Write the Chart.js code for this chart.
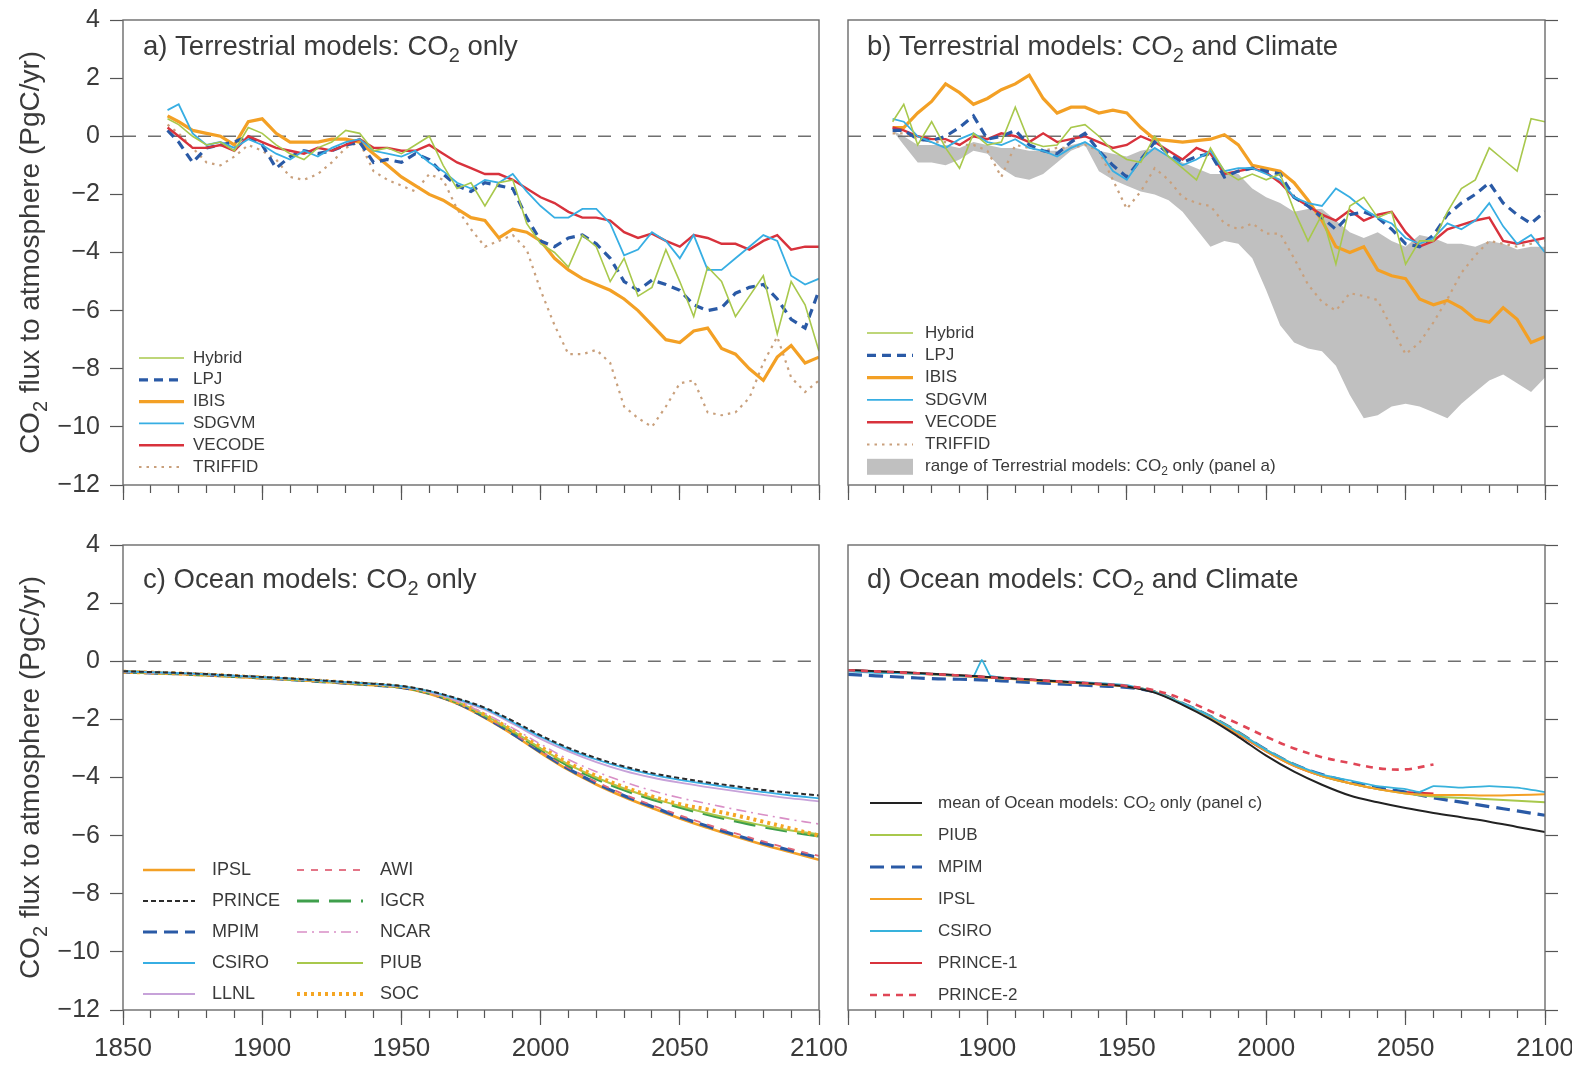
<!DOCTYPE html>
<html>
<head>
<meta charset="utf-8">
<title>CO2 flux to atmosphere</title>
<script src="https://cdn.jsdelivr.net/npm/chart.js@4.4.1/dist/chart.umd.min.js"></script>
<style>
  body { margin: 0; background: #ffffff; }
  #sheet { position: relative; width: 1572px; height: 1067px; overflow: hidden; }
  #sheet canvas { position: absolute; }
</style>
</head>
<body>
<div id="sheet">
  <canvas id="panelA" width="870" height="505" style="left:0px;top:0px"></canvas>
  <canvas id="panelB" width="738" height="505" style="left:834px;top:0px"></canvas>
  <canvas id="panelC" width="870" height="547" style="left:0px;top:520px"></canvas>
  <canvas id="panelD" width="738" height="547" style="left:834px;top:520px"></canvas>
</div>

<script>
// ---------- terrestrial runs (PgC/yr), one value per year in landYears ----------
const landYears = [1866, 1870, 1875, 1880, 1885, 1890, 1895, 1900, 1905, 1910, 1915, 1920, 1925, 1930, 1935, 1940,
  1945, 1950, 1955, 1960, 1965, 1970, 1975, 1980, 1985, 1990, 1995, 2000, 2005, 2010, 2015, 2020,
  2025, 2030, 2035, 2040, 2045, 2050, 2055, 2060, 2065, 2070, 2075, 2080, 2085, 2090, 2095, 2100];

// a) CO2 only
const hybridA  = [0.6, 0.4, 0.0, -0.3, -0.2, -0.5, 0.3, 0.1, -0.3, -0.6, -0.8, -0.4, -0.2, 0.2, 0.1, -0.5,
  -0.4, -0.6, -0.3, 0.0, -1.0, -1.8, -1.6, -2.4, -1.6, -1.5, -3.0, -3.7, -4.0, -4.5, -3.4, -3.8,
  -5.0, -4.2, -5.5, -5.2, -3.9, -5.0, -6.2, -4.5, -5.0, -6.2, -5.5, -4.8, -6.8, -5.0, -5.8, -7.4];
const lpjA     = [0.2, -0.2, -0.9, -0.4, -0.3, -0.2, 0.0, -0.3, -1.1, -0.7, -0.5, -0.6, -0.5, -0.3, -0.2, -0.9,
  -0.8, -0.9, -0.6, -0.8, -1.3, -1.7, -1.9, -1.6, -1.7, -1.8, -2.8, -3.6, -3.8, -3.5, -3.4, -3.7,
  -4.2, -5.0, -5.3, -4.95, -5.1, -5.3, -5.8, -6.0, -5.9, -5.4, -5.2, -5.1, -5.6, -6.3, -6.6, -5.3];
const ibisA    = [0.7, 0.5, 0.2, 0.1, 0.0, -0.3, 0.5, 0.6, 0.1, -0.2, -0.2, -0.2, -0.1, -0.1, -0.2, -0.6,
  -1.0, -1.4, -1.7, -2.0, -2.2, -2.5, -2.8, -2.9, -3.5, -3.2, -3.3, -3.6, -4.2, -4.6, -4.9, -5.1,
  -5.3, -5.6, -6.0, -6.5, -7.0, -7.1, -6.7, -6.6, -7.3, -7.5, -8.0, -8.4, -7.6, -7.2, -7.8, -7.6];
const sdgvmA   = [0.9, 1.1, 0.1, -0.3, -0.2, -0.4, -0.1, -0.3, -0.6, -0.8, -0.5, -0.7, -0.4, -0.2, -0.1, -0.5,
  -0.6, -0.7, -0.5, -0.9, -1.2, -1.6, -1.8, -1.5, -1.6, -1.3, -1.9, -2.4, -2.8, -2.8, -2.5, -2.5,
  -3.0, -4.1, -3.9, -3.3, -3.6, -4.2, -3.4, -4.6, -4.6, -4.2, -3.8, -3.4, -3.6, -4.8, -5.1, -4.9];
const vecodeA  = [0.3, 0.0, -0.4, -0.4, -0.3, -0.5, 0.0, -0.2, -0.4, -0.5, -0.6, -0.4, -0.5, -0.3, -0.1, -0.4,
  -0.4, -0.5, -0.5, -0.3, -0.6, -0.9, -1.1, -1.3, -1.3, -1.5, -1.8, -2.1, -2.3, -2.6, -2.8, -2.8,
  -2.9, -3.3, -3.5, -3.35, -3.6, -3.8, -3.4, -3.5, -3.7, -3.7, -3.9, -3.6, -3.4, -3.9, -3.8, -3.8];
const triffidA = [0.4, 0.1, -0.4, -0.9, -1.0, -0.7, -0.3, -0.5, -0.8, -1.4, -1.5, -1.3, -0.9, -0.4, -0.2, -1.2,
  -1.5, -1.7, -1.9, -1.3, -1.5, -2.5, -3.2, -3.8, -3.6, -3.4, -3.9, -5.3, -6.5, -7.5, -7.5, -7.35,
  -7.8, -9.3, -9.7, -10.0, -9.3, -8.5, -8.4, -9.5, -9.6, -9.5, -9.0, -7.8, -6.9, -8.3, -8.8, -8.4];

// b) CO2 and climate
const hybridB  = [0.5, 1.1, -0.3, 0.5, -0.4, -1.1, 0.1, -0.3, -0.2, 1.0, -0.2, -0.35, -0.3, 0.3, 0.4, 0.0,
  -0.5, -0.8, -0.9, 0.0, -0.7, -1.1, -1.5, -0.4, -1.2, -1.5, -1.3, -1.5, -1.3, -2.55, -3.6, -2.7,
  -4.4, -2.4, -2.1, -2.8, -2.6, -4.4, -3.6, -3.6, -2.6, -1.8, -1.5, -0.4, -0.8, -1.2, 0.6, 0.5];
const lpjB     = [0.2, 0.2, -0.1, -0.15, 0.0, 0.3, 0.7, -0.1, 0.0, 0.2, -0.3, -0.5, -0.6, -0.2, 0.1, -0.5,
  -1.0, -1.4, -0.8, -0.2, -0.6, -0.9, -0.7, -0.6, -1.4, -1.2, -1.1, -1.2, -1.3, -2.1, -2.4, -2.8,
  -3.2, -2.7, -2.6, -2.8, -3.2, -3.7, -3.8, -3.4, -2.7, -2.3, -2.0, -1.6, -2.3, -2.7, -3.0, -2.6];
const ibisB    = [0.3, 0.3, 0.8, 1.2, 1.8, 1.5, 1.1, 1.3, 1.6, 1.8, 2.1, 1.3, 0.8, 1.0, 1.0, 0.8,
  0.9, 0.8, 0.3, -0.1, -0.15, -0.2, -0.15, -0.1, 0.05, -0.3, -1.0, -1.1, -1.2, -1.6, -2.2, -2.9,
  -3.8, -4.0, -3.8, -4.6, -4.8, -4.9, -5.6, -5.8, -5.65, -5.9, -6.3, -6.4, -5.9, -6.3, -7.1, -6.9];
const sdgvmB   = [0.6, 0.5, 0.0, -0.2, -0.4, -0.1, 0.1, -0.2, -0.3, -0.1, -0.4, -0.5, -0.7, -0.4, -0.2, -0.5,
  -1.2, -1.5, -0.8, -0.4, -0.7, -1.0, -0.8, -0.5, -1.2, -1.1, -1.1, -1.3, -1.5, -2.1, -2.3, -2.4,
  -1.8, -2.1, -2.5, -2.8, -3.0, -3.5, -3.7, -3.5, -3.0, -3.2, -2.9, -2.3, -3.1, -3.7, -3.4, -4.0];
const vecodeB  = [0.3, 0.2, 0.0, -0.1, -0.1, -0.3, 0.0, -0.1, 0.1, 0.0, -0.2, 0.1, -0.2, -0.1, 0.0, -0.2,
  -0.4, -0.3, 0.0, -0.2, -0.5, -0.8, -0.4, -0.6, -1.3, -1.2, -1.1, -1.25, -1.6, -2.1, -2.4, -2.7,
  -2.9, -2.55, -2.9, -2.7, -2.6, -3.3, -3.8, -3.6, -3.2, -3.05, -2.9, -2.8, -3.6, -3.7, -3.6, -3.5];
const triffidB = [0.1, 0.1, -0.1, -0.2, -0.2, -0.3, -0.3, -0.5, -1.4, -0.3, -0.4, -0.5, -0.4, -0.4, -0.3, -0.5,
  -1.5, -2.5, -1.9, -1.1, -1.5, -2.1, -2.3, -2.4, -3.0, -3.2, -3.0, -3.35, -3.35, -4.2, -5.1, -5.7,
  -6.0, -5.4, -5.5, -5.64, -6.6, -7.5, -7.1, -6.4, -5.6, -4.7, -4.1, -3.6, -3.7, -3.8, -3.7, -3.6];

// spread of the CO2-only runs, shown as a band in panel b
const rangeHigh = [0.2, 0.0, -0.3, -0.3, -0.3, -0.4, -0.2, -0.3, -0.4, -0.4, -0.5, -0.5, -0.5, -0.3, -0.2, -0.5,
  -0.6, -0.7, -0.5, -0.4, -0.7, -0.9, -1.1, -1.3, -1.3, -1.3, -1.8, -2.1, -2.3, -2.6, -2.5, -2.5,
  -2.9, -3.3, -3.5, -3.3, -3.6, -3.8, -3.4, -3.5, -3.7, -3.7, -3.8, -3.6, -3.7, -3.9, -3.8, -3.8];
const rangeLow  = [0.2, -0.3, -0.9, -0.9, -1.0, -0.8, -0.5, -0.6, -1.1, -1.4, -1.5, -1.3, -0.9, -0.5, -0.3, -1.2,
  -1.5, -1.7, -1.9, -2.0, -2.2, -2.6, -3.2, -3.8, -3.6, -3.7, -4.2, -5.3, -6.5, -7.1, -7.3, -7.4,
  -7.9, -8.9, -9.7, -9.6, -9.3, -9.2, -9.3, -9.5, -9.7, -9.2, -8.8, -8.4, -8.2, -8.5, -8.8, -8.3];

// ---------- ocean runs (PgC/yr), one value per decade ----------
const seaYears = [1850, 1860, 1870, 1880, 1890, 1900, 1910, 1920, 1930, 1940, 1950, 1960, 1970,
  1980, 1990, 2000, 2010, 2020, 2030, 2040, 2050, 2060, 2070, 2080, 2090, 2100];

// c) CO2 only
const princeC = [-0.34, -0.37, -0.40, -0.44, -0.49, -0.54, -0.59, -0.65, -0.71, -0.77, -0.85, -1.02, -1.28,
  -1.60, -2.05, -2.55, -2.98, -3.33, -3.62, -3.85, -4.02, -4.17, -4.30, -4.43, -4.53, -4.62];
const csiroC  = [-0.35, -0.38, -0.41, -0.45, -0.50, -0.55, -0.60, -0.66, -0.72, -0.78, -0.86, -1.03, -1.30,
  -1.63, -2.10, -2.60, -3.03, -3.38, -3.67, -3.90, -4.08, -4.23, -4.37, -4.50, -4.62, -4.72];
const llnlC   = [-0.35, -0.38, -0.41, -0.45, -0.50, -0.55, -0.60, -0.66, -0.72, -0.79, -0.87, -1.05, -1.33,
  -1.67, -2.15, -2.67, -3.10, -3.47, -3.77, -4.00, -4.18, -4.33, -4.47, -4.60, -4.72, -4.82];
const ncarC   = [-0.36, -0.39, -0.42, -0.46, -0.51, -0.56, -0.61, -0.67, -0.73, -0.79, -0.88, -1.07, -1.38,
  -1.80, -2.30, -2.85, -3.38, -3.80, -4.15, -4.45, -4.70, -4.90, -5.10, -5.28, -5.45, -5.60];
const socC    = [-0.36, -0.39, -0.42, -0.46, -0.51, -0.56, -0.61, -0.67, -0.73, -0.80, -0.88, -1.08, -1.40,
  -1.85, -2.38, -2.95, -3.50, -3.95, -4.33, -4.65, -4.92, -5.10, -5.30, -5.52, -5.76, -6.00];
const piubC   = [-0.36, -0.39, -0.42, -0.46, -0.51, -0.56, -0.62, -0.68, -0.74, -0.80, -0.88, -1.08, -1.40,
  -1.86, -2.40, -3.00, -3.55, -4.00, -4.38, -4.70, -4.98, -5.23, -5.45, -5.65, -5.82, -5.95];
const igcrC   = [-0.36, -0.39, -0.43, -0.47, -0.52, -0.57, -0.62, -0.68, -0.74, -0.81, -0.89, -1.09, -1.42,
  -1.88, -2.43, -3.03, -3.60, -4.05, -4.43, -4.75, -5.03, -5.28, -5.50, -5.70, -5.87, -6.02];
const awiC    = [-0.37, -0.40, -0.43, -0.47, -0.52, -0.57, -0.62, -0.68, -0.75, -0.81, -0.89, -1.10, -1.43,
  -1.90, -2.47, -3.08, -3.66, -4.15, -4.58, -4.95, -5.30, -5.62, -5.92, -6.20, -6.46, -6.70];
const mpimC   = [-0.37, -0.40, -0.43, -0.47, -0.52, -0.57, -0.63, -0.69, -0.75, -0.82, -0.90, -1.10, -1.44,
  -1.92, -2.50, -3.12, -3.70, -4.20, -4.63, -5.00, -5.36, -5.68, -5.98, -6.26, -6.52, -6.76];
const ipslC   = [-0.37, -0.40, -0.44, -0.48, -0.53, -0.58, -0.63, -0.69, -0.76, -0.82, -0.90, -1.12, -1.46,
  -1.95, -2.52, -3.15, -3.74, -4.24, -4.67, -5.05, -5.41, -5.73, -6.03, -6.31, -6.57, -6.83];

// d) CO2 and climate
const meanD    = [-0.30, -0.34, -0.38, -0.43, -0.48, -0.54, -0.60, -0.66, -0.72, -0.78, -0.87, -1.08, -1.50,
  -2.00, -2.60, -3.25, -3.80, -4.25, -4.62, -4.85, -5.05, -5.22, -5.37, -5.52, -5.70, -5.88];
const piubD    = [-0.32, -0.36, -0.40, -0.45, -0.50, -0.55, -0.61, -0.67, -0.73, -0.79, -0.86, -1.05, -1.45,
  -1.90, -2.45, -3.05, -3.55, -3.95, -4.20, -4.40, -4.55, -4.65, -4.70, -4.75, -4.80, -4.85];
const mpimD    = [-0.45, -0.50, -0.55, -0.60, -0.62, -0.65, -0.70, -0.75, -0.80, -0.85, -0.90, -1.05, -1.45,
  -1.90, -2.45, -3.05, -3.55, -3.90, -4.15, -4.35, -4.50, -4.70, -4.85, -5.00, -5.15, -5.30];
const ipslD    = [-0.33, -0.37, -0.41, -0.46, -0.51, -0.56, -0.62, -0.68, -0.74, -0.80, -0.87, -1.06, -1.47,
  -1.95, -2.50, -3.10, -3.60, -3.95, -4.20, -4.40, -4.55, -4.60, -4.60, -4.62, -4.60, -4.58];
const prince1D = [-0.31, -0.35, -0.39, -0.44, -0.49, -0.55, -0.61, -0.67, -0.73, -0.79, -0.86, -1.06, -1.47,
  -1.95, -2.52, -3.10, -3.60, -3.95, -4.20, -4.40, -4.50, -4.55, null, null, null, null];
const prince2D = [-0.31, -0.35, -0.39, -0.44, -0.49, -0.55, -0.60, -0.66, -0.72, -0.78, -0.85, -1.00, -1.30,
  -1.72, -2.15, -2.60, -3.00, -3.30, -3.50, -3.68, -3.72, -3.55, null, null, null, null];
// CSIRO has a short blip just before 1900, so it keeps its own years
const csiroYearsD = [1850, 1860, 1870, 1880, 1890, 1895, 1898, 1901, 1905, 1910, 1920, 1930, 1940, 1950, 1960, 1970,
  1980, 1990, 2000, 2010, 2020, 2030, 2040, 2050, 2055, 2060, 2070, 2080, 2090, 2100];
const csiroD   = [-0.35, -0.40, -0.42, -0.45, -0.50, -0.52, 0.05, -0.50, -0.56, -0.60, -0.65, -0.70, -0.75, -0.82,
  -1.05, -1.45, -1.90, -2.45, -3.05, -3.55, -3.90, -4.10, -4.30, -4.40, -4.50, -4.30, -4.35, -4.30, -4.35, -4.50];

const yTicks = [4, 2, 0, -2, -4, -6, -8, -10, -12];

// ---------- look ----------
const FONT = '"Liberation Sans", Arial, Helvetica, sans-serif';
const INK = '#3a3a3a';
const TICK = '#555555';

Chart.defaults.font.family = FONT;
Chart.defaults.color = INK;

// text with "₂" drawn as a real lowered subscript
function subText(ctx, str, x, y, size, centered) {
  const segs = str.split('\u2082');
  const small = Math.round(size * 0.72);
  ctx.font = size + 'px ' + FONT;
  const widths = segs.map(s => ctx.measureText(s).width);
  ctx.font = small + 'px ' + FONT;
  const subW = ctx.measureText('2').width;
  const total = widths.reduce((p, w) => p + w, 0) + subW * (segs.length - 1);
  let cx = centered ? x - total / 2 : x;
  ctx.textAlign = 'left';
  segs.forEach((s, i) => {
    ctx.font = size + 'px ' + FONT;
    ctx.fillText(s, cx, y);
    cx += widths[i];
    if (i < segs.length - 1) {
      ctx.font = small + 'px ' + FONT;
      ctx.fillText('2', cx, y + size * 0.27);
      cx += subW;
    }
  });
}

// frame, panel title, y title and legend for each panel (page coordinates)
const deco = {};

const panelDeco = {
  id: 'panelDeco',
  afterDraw(chart) {
    const d = deco[chart.canvas.id];
    const ctx = chart.ctx, a = chart.chartArea;
    ctx.save();
    ctx.setLineDash([]);
    ctx.strokeStyle = '#6b6b6b';
    ctx.lineWidth = 1.4;
    ctx.strokeRect(a.left, a.top, a.right - a.left, a.bottom - a.top);

    ctx.fillStyle = INK;
    ctx.textBaseline = 'alphabetic';
    subText(ctx, d.title, d.titleX - d.ox, d.titleY - d.oy, 27.5, false);

    if (d.yTitle) {
      ctx.save();
      ctx.translate(d.yTitleX - d.ox, (a.top + a.bottom) / 2);
      ctx.rotate(-Math.PI / 2);
      ctx.textBaseline = 'alphabetic';
      subText(ctx, d.yTitle, 0, 0, 28, true);
      ctx.restore();
    }

    d.legend.forEach(col => {
      col.labels.forEach((lbl, i) => {
        const y = col.y0 + i * col.dy - d.oy;
        const ds = chart.data.datasets.find(s => s.label === lbl);
        if (ds.fill) {
          ctx.fillStyle = ds.backgroundColor;
          ctx.fillRect(col.x1 - d.ox, y - 8, col.x2 - col.x1, 16);
        } else {
          ctx.strokeStyle = ds.borderColor;
          ctx.lineWidth = ds.borderWidth;
          ctx.setLineDash(ds.borderDash || []);
          ctx.beginPath();
          ctx.moveTo(col.x1 - d.ox, y);
          ctx.lineTo(col.x2 - d.ox, y);
          ctx.stroke();
          ctx.setLineDash([]);
        }
        ctx.fillStyle = INK;
        ctx.textBaseline = 'middle';
        subText(ctx, lbl, col.tx - d.ox, y, d.legendFont, false);
      });
    });
    ctx.restore();
  }
};

function series(label, years, values, style, order) {
  const pts = [];
  years.forEach((yr, i) => { if (values[i] !== null) pts.push({ x: yr, y: values[i] }); });
  return Object.assign({ label: label, data: pts, pointRadius: 0, fill: false, order: order }, style);
}

function zeroLine() {
  return { label: 'zero', data: [{ x: 1850, y: 0 }, { x: 2100, y: 0 }], borderColor: '#6f6f6f',
    borderWidth: 1.6, borderDash: [13, 12], pointRadius: 0, fill: false, order: 20 };
}

function makeScales(p) {
  return {
    x: {
      type: 'linear', min: 1850, max: 2100, position: 'bottom', weight: 1,
      ticks: {
        stepSize: 50, display: p.xLabels, autoSkip: false, maxRotation: 0, padding: 8,
        color: INK, font: { size: 26 },
        callback: v => (p.hide1850 && v === 1850) ? '' : String(v)
      },
      grid: { drawOnChartArea: false, tickLength: 15, tickColor: TICK, tickWidth: 1.2 },
      border: { display: false },
      afterFit: s => { s.height = p.xHeight; s.paddingLeft = 0; s.paddingRight = 0; }
    },
    xMinor: {
      type: 'linear', min: 1850, max: 2100, position: 'bottom', weight: 0,
      ticks: { stepSize: 10, display: false },
      grid: { drawOnChartArea: false, tickLength: 8, tickColor: TICK, tickWidth: 1.2 },
      border: { display: false },
      afterFit: s => { s.height = 0; s.paddingLeft = 0; s.paddingRight = 0; }
    },
    y: {
      type: 'linear', min: -12, max: 4, position: p.yPos,
      afterBuildTicks: s => { s.ticks = yTicks.map(v => ({ value: v })); },
      ticks: {
        display: p.yLabels, padding: 10, color: INK, font: { size: 25 },
        callback: v => v < 0 ? '\u2212' + Math.abs(v) : String(v)
      },
      grid: { drawOnChartArea: false, tickLength: 13, tickColor: TICK, tickWidth: 1.2 },
      border: { display: false },
      afterFit: s => { s.width = p.yWidth; s.paddingTop = 0; s.paddingBottom = 0; }
    }
  };
}

function buildPanel(id, p, datasets) {
  return new Chart(document.getElementById(id), {
    type: 'line',
    data: { datasets: datasets },
    options: {
      responsive: false,
      animation: false,
      devicePixelRatio: 1,
      layout: { padding: p.padding },
      elements: { line: { tension: p.tension || 0 } },
      plugins: { legend: { display: false }, tooltip: { enabled: false } },
      scales: makeScales(p)
    },
    plugins: [panelDeco]
  });
}

// ---------- styles ----------
const GREEN = '#a8c84c', NAVY = '#2a5aa6', ORANGE = '#f3a025', SKY = '#37aee3', RED = '#d8323c', TAN = '#c9a07c';
const landStyle = {
  'Hybrid':  { borderColor: GREEN, borderWidth: 1.6 },
  'LPJ':     { borderColor: NAVY, borderWidth: 3.2, borderDash: [9, 6] },
  'IBIS':    { borderColor: ORANGE, borderWidth: 3.2 },
  'SDGVM':   { borderColor: SKY, borderWidth: 1.8 },
  'VECODE':  { borderColor: RED, borderWidth: 2.4 },
  'TRIFFID': { borderColor: TAN, borderWidth: 2.2, borderDash: [2.5, 5] }
};

// ---------- a) Terrestrial models: CO2 only ----------
deco.panelA = {
  ox: 0, oy: 0, title: 'a) Terrestrial models: CO\u2082 only', titleX: 143, titleY: 55,
  yTitle: 'CO\u2082 flux to atmosphere (PgC/yr)', yTitleX: 39, legendFont: 17,
  legend: [{ x1: 139, x2: 184, tx: 193, y0: 358, dy: 21.8,
    labels: ['Hybrid', 'LPJ', 'IBIS', 'SDGVM', 'VECODE', 'TRIFFID'] }]
};
buildPanel('panelA',
  { padding: { left: 0, top: 20, right: 51, bottom: 0 }, xHeight: 20, yWidth: 123, yPos: 'left',
    xLabels: false, yLabels: true },
  [
    series('Hybrid', landYears, hybridA, landStyle['Hybrid'], 0),
    series('LPJ', landYears, lpjA, landStyle['LPJ'], 3),
    series('IBIS', landYears, ibisA, landStyle['IBIS'], 4),
    series('SDGVM', landYears, sdgvmA, landStyle['SDGVM'], 1),
    series('VECODE', landYears, vecodeA, landStyle['VECODE'], 2),
    series('TRIFFID', landYears, triffidA, landStyle['TRIFFID'], 5),
    zeroLine()
  ]);

// ---------- b) Terrestrial models: CO2 and Climate ----------
const RANGE_LABEL = 'range of Terrestrial models: CO\u2082 only (panel a)';
deco.panelB = {
  ox: 834, oy: 0, title: 'b) Terrestrial models: CO\u2082 and Climate', titleX: 867, titleY: 55,
  yTitle: null, legendFont: 17,
  legend: [{ x1: 867, x2: 913, tx: 925, y0: 333, dy: 22.3,
    labels: ['Hybrid', 'LPJ', 'IBIS', 'SDGVM', 'VECODE', 'TRIFFID', RANGE_LABEL] }]
};
buildPanel('panelB',
  { padding: { left: 14, top: 20, right: 0, bottom: 0 }, xHeight: 20, yWidth: 27, yPos: 'right',
    xLabels: false, yLabels: false },
  [
    series('range low', landYears, rangeLow, { borderWidth: 0, borderColor: 'rgba(0,0,0,0)' }, 30),
    series(RANGE_LABEL, landYears, rangeHigh,
      { borderWidth: 0, borderColor: 'rgba(0,0,0,0)', backgroundColor: '#c0c0c0', fill: '-1' }, 30),
    series('Hybrid', landYears, hybridB, landStyle['Hybrid'], 0),
    series('LPJ', landYears, lpjB, landStyle['LPJ'], 2),
    series('IBIS', landYears, ibisB, landStyle['IBIS'], 4),
    series('SDGVM', landYears, sdgvmB, landStyle['SDGVM'], 1),
    series('VECODE', landYears, vecodeB, landStyle['VECODE'], 3),
    series('TRIFFID', landYears, triffidB, landStyle['TRIFFID'], 5),
    zeroLine()
  ]);

// ---------- c) Ocean models: CO2 only ----------
deco.panelC = {
  ox: 0, oy: 520, title: 'c) Ocean models: CO\u2082 only', titleX: 143, titleY: 588,
  yTitle: 'CO\u2082 flux to atmosphere (PgC/yr)', yTitleX: 39, legendFont: 18,
  legend: [
    { x1: 143, x2: 195, tx: 212, y0: 870, dy: 31, labels: ['IPSL', 'PRINCE', 'MPIM', 'CSIRO', 'LLNL'] },
    { x1: 297, x2: 363, tx: 380, y0: 870, dy: 31, labels: ['AWI', 'IGCR', 'NCAR', 'PIUB', 'SOC'] }
  ]
};
buildPanel('panelC',
  { padding: { left: 0, top: 25, right: 51, bottom: 0 }, xHeight: 57, yWidth: 123, yPos: 'left',
    xLabels: true, yLabels: true, tension: 0.35 },
  [
    series('PRINCE', seaYears, princeC, { borderColor: '#2b2b2b', borderWidth: 2, borderDash: [5, 3] }, 0),
    series('CSIRO', seaYears, csiroC, { borderColor: SKY, borderWidth: 1.8 }, 1),
    series('LLNL', seaYears, llnlC, { borderColor: '#c7a2d9', borderWidth: 1.8 }, 2),
    series('NCAR', seaYears, ncarC, { borderColor: '#d98fc6', borderWidth: 1.6, borderDash: [10, 5, 2, 5] }, 3),
    series('SOC', seaYears, socC, { borderColor: '#f5a623', borderWidth: 4, borderDash: [3, 4] }, 4),
    series('PIUB', seaYears, piubC, { borderColor: GREEN, borderWidth: 2 }, 5),
    series('IGCR', seaYears, igcrC, { borderColor: '#3f9f4c', borderWidth: 2.8, borderDash: [22, 10] }, 6),
    series('AWI', seaYears, awiC, { borderColor: '#e0677a', borderWidth: 1.8, borderDash: [7, 7] }, 7),
    series('MPIM', seaYears, mpimC, { borderColor: NAVY, borderWidth: 3.2, borderDash: [14, 7] }, 8),
    series('IPSL', seaYears, ipslC, { borderColor: ORANGE, borderWidth: 2.6 }, 9),
    zeroLine()
  ]);

// ---------- d) Ocean models: CO2 and Climate ----------
const MEAN_LABEL = 'mean of Ocean models: CO\u2082 only (panel c)';
deco.panelD = {
  ox: 834, oy: 520, title: 'd) Ocean models: CO\u2082 and Climate', titleX: 867, titleY: 588,
  yTitle: null, legendFont: 17,
  legend: [{ x1: 870, x2: 922, tx: 938, y0: 803, dy: 32,
    labels: [MEAN_LABEL, 'PIUB', 'MPIM', 'IPSL', 'CSIRO', 'PRINCE-1', 'PRINCE-2'] }]
};
buildPanel('panelD',
  { padding: { left: 14, top: 25, right: 0, bottom: 0 }, xHeight: 57, yWidth: 27, yPos: 'right',
    xLabels: true, yLabels: false, hide1850: true, tension: 0.35 },
  [
    series(MEAN_LABEL, seaYears, meanD, { borderColor: '#222222', borderWidth: 2 }, 1),
    series('PIUB', seaYears, piubD, { borderColor: GREEN, borderWidth: 2 }, 4),
    series('MPIM', seaYears, mpimD, { borderColor: NAVY, borderWidth: 3.2, borderDash: [14, 7] }, 5),
    series('IPSL', seaYears, ipslD, { borderColor: ORANGE, borderWidth: 2 }, 3),
    series('CSIRO', csiroYearsD, csiroD, { borderColor: '#38b2dc', borderWidth: 1.8, tension: 0.1 }, 2),
    series('PRINCE-1', seaYears, prince1D, { borderColor: RED, borderWidth: 2 }, 6),
    series('PRINCE-2', seaYears, prince2D, { borderColor: '#e04656', borderWidth: 2.6, borderDash: [7, 6] }, 0),
    zeroLine()
  ]);
</script>
</body>
</html>
